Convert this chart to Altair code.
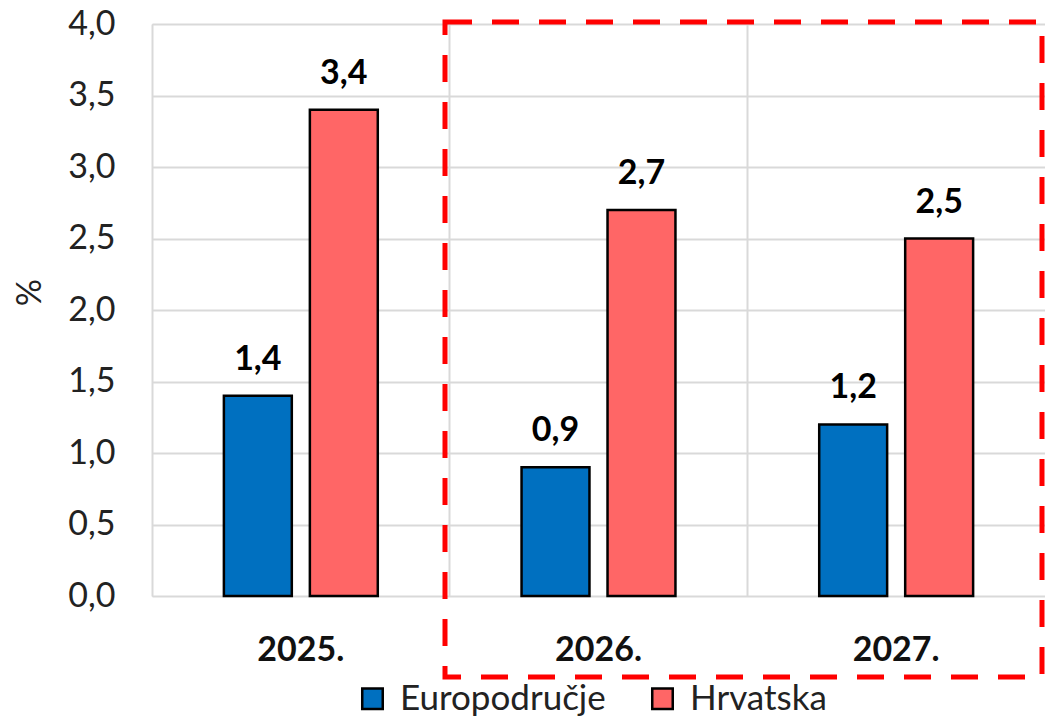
import altair as alt
import pandas as pd

years = ["2025.", "2026.", "2027."]
series = ["Europodručje", "Hrvatska"]
euro = [1.4, 0.9, 1.2]
hr = [3.4, 2.7, 2.5]
colors = ["#0070C0", "#FF6666"]
y_ticks = [0, 0.5, 1.0, 1.5, 2.0, 2.5, 3.0, 3.5, 4.0]

rows = []
for i, yr in enumerate(years):
    rows.append({"year": yr, "series": series[0], "value": euro[i]})
    rows.append({"year": yr, "series": series[1], "value": hr[i]})
df = pd.DataFrame(rows)

FONT = "Lato"
W, H = 893, 572
FMT = "replace(format(datum.value, '.1f'), '.', ',')"

base = alt.Chart(df).transform_calculate(label=FMT)

x = alt.X(
    "year:N",
    sort=years,
    scale=alt.Scale(domain=years, paddingInner=0, paddingOuter=0),
    axis=alt.Axis(
        title=None, labelFont=FONT, labelFontSize=34, labelFontWeight="bold",
        labelColor="#111", labelPadding=37, domain=False, ticks=False,
        grid=True, bandPosition=0, gridColor="#d9d9d9", gridWidth=2, labelAngle=0,
    ),
)
xo = alt.XOffset(
    "series:N",
    scale=alt.Scale(domain=series, paddingInner=0.21, paddingOuter=0.836),
)
y = alt.Y(
    "value:Q",
    scale=alt.Scale(domain=[0, 4], nice=False),
    axis=alt.Axis(
        values=y_ticks, labelExpr=FMT, labelFont=FONT, labelFontSize=34,
        labelColor="#222", labelPadding=37, domain=False, ticks=False,
        grid=True, gridColor="#d9d9d9", gridWidth=2,
        title="%", titleFont=FONT, titleFontSize=34, titleFontWeight="normal",
        titleColor="#222", titleX=-122, titleY=268, titleAngle=270,
        titleBaseline="middle", titleAlign="center",
    ),
)
color = alt.Color(
    "series:N",
    scale=alt.Scale(domain=series, range=colors),
    legend=alt.Legend(
        title=None, orient="none", legendX=203, legendY=657, direction="horizontal",
        padding=0, symbolType="square", symbolSize=420, symbolStrokeColor="black",
        symbolStrokeWidth=2.5, symbolOpacity=1, labelFont=FONT, labelFontSize=35,
        labelColor="#222", columnPadding=39, labelOffset=10, labelLimit=400,
    ),
)

bars = base.mark_bar(stroke="black", strokeWidth=2.5).encode(
    x=x, xOffset=xo, y=y, color=color
)
labels = base.mark_text(
    font=FONT, fontSize=34, fontWeight="bold", baseline="alphabetic", dy=-26, color="black"
).encode(x=x, xOffset=xo, y=y, text="label:N")

box = alt.Chart(pd.DataFrame({"a": [0]})).mark_rect(
    fillOpacity=0, stroke="#ff0000", strokeWidth=5, strokeDash=[27, 20]
).encode(
    x=alt.value(293), x2=alt.value(890), y=alt.value(-2), y2=alt.value(653)
)

chart = (
    alt.layer(bars, labels, box)
    .properties(
        width=W, height=H,
        autosize=alt.AutoSizeParams(type="none"),
        padding={"left": 144, "top": 16, "right": 0, "bottom": 122},
    )
    .configure_view(stroke="#d9d9d9", strokeWidth=2)
    .configure(background="white")
)

chart.save("out.html", embed_options={"renderer": "svg", "actions": False})
